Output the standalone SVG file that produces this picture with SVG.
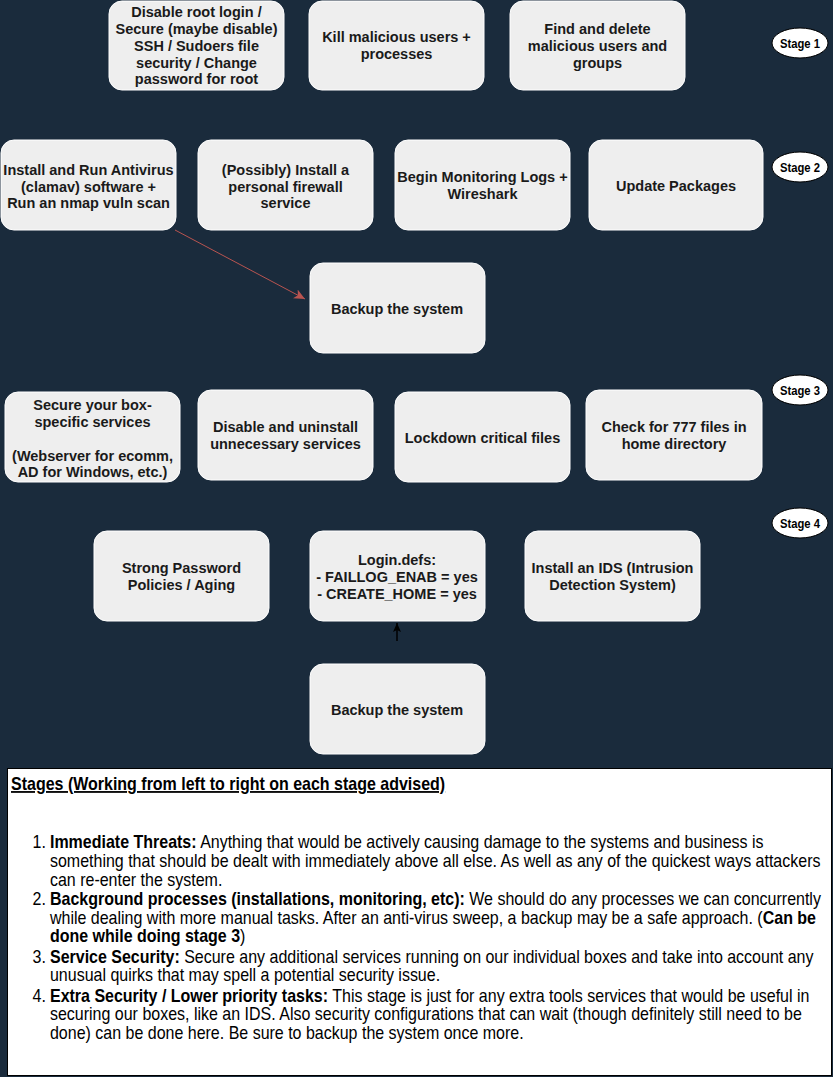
<svg xmlns="http://www.w3.org/2000/svg" width="833" height="1077" viewBox="0 0 833 1077">
<defs>
<style>
.bg{fill:#1a2b3c}
.box{fill:#eeeeee;stroke:#ffffff;stroke-width:1}
.nt{font-family:"Liberation Sans",Arial,sans-serif;font-weight:bold;font-size:14.5px;fill:#1a1a1a;text-anchor:middle}
.stg{fill:#ffffff;stroke:#000000;stroke-width:1}
.st{font-family:"Liberation Sans",Arial,sans-serif;font-weight:bold;font-size:12.5px;fill:#000000;text-anchor:middle}
.pt{font-family:"Liberation Sans",Arial,sans-serif;font-size:18px;fill:#000000}
.b{font-weight:bold}
</style>
<marker id="ahRed" markerWidth="12" markerHeight="10" refX="11" refY="5" orient="auto" markerUnits="userSpaceOnUse">
<path d="M0,0 L11,5 L0,10 L3,5 Z" fill="#b85450"/>
</marker>
<marker id="ahBlk" markerWidth="10" markerHeight="10" refX="9" refY="4" orient="auto" markerUnits="userSpaceOnUse">
<path d="M0,0 L9,4 L0,8 L2,4 Z" fill="#000000"/>
</marker>
</defs>
<rect class="bg" x="0" y="0" width="833" height="1077"/>

<g id="connectors">
<line x1="175" y1="230" x2="305" y2="299" stroke="#b85450" stroke-width="1" marker-end="url(#ahRed)"/>
<line x1="397" y1="641" x2="397" y2="623" stroke="#000000" stroke-width="1.5" marker-end="url(#ahBlk)"/>
</g>

<g id="n1"><rect class="box" x="109" y="1" width="175" height="89" rx="13"/>
<text class="nt" x="196.5" y="17">Disable root login /</text>
<text class="nt" x="196.5" y="34">Secure (maybe disable)</text>
<text class="nt" x="196.5" y="51">SSH / Sudoers file</text>
<text class="nt" x="196.5" y="67.5">security / Change</text>
<text class="nt" x="196.5" y="84">password for root</text></g>

<g id="n2"><rect class="box" x="309" y="1" width="175" height="89" rx="13"/>
<text class="nt" x="396.5" y="42">Kill malicious users +</text>
<text class="nt" x="396.5" y="59">processes</text></g>

<g id="n3"><rect class="box" x="510" y="1" width="175" height="89" rx="13"/>
<text class="nt" x="597.5" y="34">Find and delete</text>
<text class="nt" x="597.5" y="51">malicious users and</text>
<text class="nt" x="597.5" y="67.5">groups</text></g>

<g id="s1"><ellipse class="stg" cx="800" cy="43" rx="28" ry="15"/>
<text class="st" x="800" y="47.5" textLength="40" lengthAdjust="spacingAndGlyphs">Stage 1</text></g>

<g id="n4"><rect class="box" x="1" y="140" width="175" height="90" rx="13"/>
<text class="nt" x="88.5" y="175">Install and Run Antivirus</text>
<text class="nt" x="88.5" y="192">(clamav) software +</text>
<text class="nt" x="88.5" y="208">Run an nmap vuln scan</text></g>

<g id="n5"><rect class="box" x="198" y="140" width="175" height="90" rx="13"/>
<text class="nt" x="285.5" y="175">(Possibly) Install a</text>
<text class="nt" x="285.5" y="192">personal firewall</text>
<text class="nt" x="285.5" y="208">service</text></g>

<g id="n6"><rect class="box" x="395" y="140" width="175" height="90" rx="13"/>
<text class="nt" x="482.5" y="182">Begin Monitoring Logs +</text>
<text class="nt" x="482.5" y="199">Wireshark</text></g>

<g id="n7"><rect class="box" x="589" y="140" width="174" height="90" rx="13"/>
<text class="nt" x="676" y="191">Update Packages</text></g>

<g id="s2"><ellipse class="stg" cx="800" cy="167" rx="28" ry="15"/>
<text class="st" x="800" y="171.5" textLength="40" lengthAdjust="spacingAndGlyphs">Stage 2</text></g>

<g id="n8"><rect class="box" x="310" y="263" width="175" height="90" rx="13"/>
<text class="nt" x="397" y="313.5">Backup the system</text></g>

<g id="n9"><rect class="box" x="5" y="392" width="175" height="90" rx="13"/>
<text class="nt" x="92.5" y="409.5">Secure your box-</text>
<text class="nt" x="92.5" y="426.5">specific services</text>
<text class="nt" x="92.5" y="460.5">(Webserver for ecomm,</text>
<text class="nt" x="92.5" y="477">AD for Windows, etc.)</text></g>

<g id="n10"><rect class="box" x="198" y="390" width="175" height="90" rx="13"/>
<text class="nt" x="285.5" y="432">Disable and uninstall</text>
<text class="nt" x="285.5" y="449">unnecessary services</text></g>

<g id="n11"><rect class="box" x="395" y="392" width="175" height="90" rx="13"/>
<text class="nt" x="482.5" y="442.5">Lockdown critical files</text></g>

<g id="n12"><rect class="box" x="586" y="390" width="176" height="90" rx="13"/>
<text class="nt" x="674" y="432">Check for 777 files in</text>
<text class="nt" x="674" y="449">home directory</text></g>

<g id="s3"><ellipse class="stg" cx="800" cy="390" rx="28" ry="15"/>
<text class="st" x="800" y="394.5" textLength="40" lengthAdjust="spacingAndGlyphs">Stage 3</text></g>

<g id="n13"><rect class="box" x="94" y="531" width="175" height="90" rx="13"/>
<text class="nt" x="181.5" y="573">Strong Password</text>
<text class="nt" x="181.5" y="590">Policies / Aging</text></g>

<g id="n14"><rect class="box" x="310" y="531" width="175" height="90" rx="13"/>
<text class="nt" x="397" y="565">Login.defs:</text>
<text class="nt" x="397" y="582">- FAILLOG_ENAB = yes</text>
<text class="nt" x="397" y="598.5">- CREATE_HOME = yes</text></g>

<g id="n15"><rect class="box" x="525" y="531" width="175" height="90" rx="13"/>
<text class="nt" x="612.5" y="573">Install an IDS (Intrusion</text>
<text class="nt" x="612.5" y="590">Detection System)</text></g>

<g id="s4"><ellipse class="stg" cx="800" cy="523" rx="28" ry="15"/>
<text class="st" x="800" y="527.5" textLength="40" lengthAdjust="spacingAndGlyphs">Stage 4</text></g>

<g id="n16"><rect class="box" x="310" y="664" width="175" height="90" rx="13"/>
<text class="nt" x="397" y="714.5">Backup the system</text></g>

<g id="notes">
<rect x="7.5" y="768.5" width="824" height="307" fill="#ffffff" stroke="#000000" stroke-width="1"/>
<g transform="scale(0.889,1)">
<text class="pt b" x="12.4" y="790" text-decoration="underline">Stages (Working from left to right on each stage advised)</text>
<text class="pt" x="51.7" y="848" text-anchor="end">1.</text>
<text class="pt" x="56.2" y="848"><tspan class="b">Immediate Threats:</tspan> Anything that would be actively causing damage to the systems and business is</text>
<text class="pt" x="56.2" y="867">something that should be dealt with immediately above all else. As well as any of the quickest ways attackers</text>
<text class="pt" x="56.2" y="886">can re-enter the system.</text>
<text class="pt" x="51.7" y="905" text-anchor="end">2.</text>
<text class="pt" x="56.2" y="905"><tspan class="b">Background processes (installations, monitoring, etc):</tspan> We should do any processes we can concurrently</text>
<text class="pt" x="56.2" y="924">while dealing with more manual tasks. After an anti-virus sweep, a backup may be a safe approach. (<tspan class="b">Can be</tspan></text>
<text class="pt" x="56.2" y="942"><tspan class="b">done while doing stage 3</tspan>)</text>
<text class="pt" x="51.7" y="963" text-anchor="end">3.</text>
<text class="pt" x="56.2" y="963"><tspan class="b">Service Security:</tspan> Secure any additional services running on our individual boxes and take into account any</text>
<text class="pt" x="56.2" y="981">unusual quirks that may spell a potential security issue.</text>
<text class="pt" x="51.7" y="1002" text-anchor="end">4.</text>
<text class="pt" x="56.2" y="1002"><tspan class="b">Extra Security / Lower priority tasks:</tspan> This stage is just for any extra tools services that would be useful in</text>
<text class="pt" x="56.2" y="1020">securing our boxes, like an IDS. Also security configurations that can wait (though definitely still need to be</text>
<text class="pt" x="56.2" y="1039">done) can be done here. Be sure to backup the system once more.</text>
</g>
</g>
</svg>
